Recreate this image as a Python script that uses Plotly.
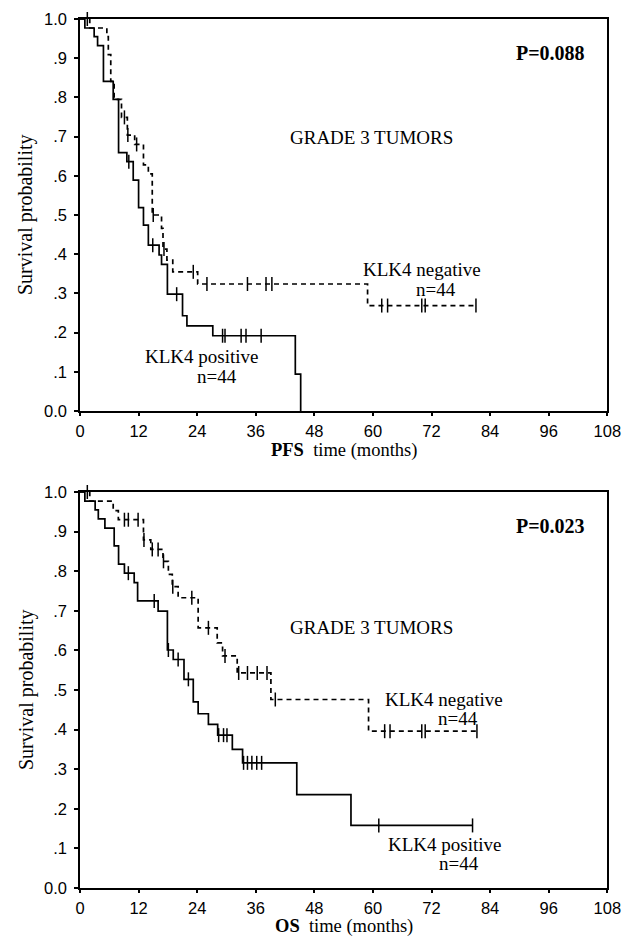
import plotly.graph_objects as go

# ---------------- data ----------------
x_ticks = [0, 12, 24, 36, 48, 60, 72, 84, 96, 108]
y_ticks = [0.0, 0.1, 0.2, 0.3, 0.4, 0.5, 0.6, 0.7, 0.8, 0.9, 1.0]
y_ticktext = ["0.0", ".1", ".2", ".3", ".4", ".5", ".6", ".7", ".8", ".9", "1.0"]

# PFS, KLK4 positive (solid)
pfs_pos_t = [0, 1.0, 2.9, 3.6, 4.8, 6.8, 7.9, 9.6, 10.9, 12.0, 13.0, 14.0, 16.2, 16.7, 17.9, 21.0, 21.9, 27.2, 44.1, 45.2]
pfs_pos_s = [1.0, 0.977, 0.955, 0.932, 0.841, 0.795, 0.659, 0.636, 0.589, 0.519, 0.474, 0.423, 0.398, 0.374, 0.298, 0.243, 0.217, 0.192, 0.094, 0.0]
pfs_pos_cens = [10.0, 14.9, 19.8, 29.2, 29.7, 33.0, 34.0, 37.1]

# PFS, KLK4 negative (dashed)
pfs_neg_t = [0, 2.0, 5.5, 5.8, 6.3, 7.0, 8.5, 9.7, 11.2, 13.0, 14.0, 14.8, 16.7, 17.0, 17.8, 19.0, 24.1, 58.9]
pfs_neg_s = [1.0, 0.977, 0.955, 0.909, 0.841, 0.795, 0.749, 0.704, 0.68, 0.628, 0.605, 0.50, 0.466, 0.413, 0.385, 0.355, 0.324, 0.269]
pfs_neg_cens = [1.5, 9.1, 9.8, 11.6, 15.0, 17.2, 23.2, 26.0, 34.3, 38.1, 39.3, 61.8, 63.0, 70.0, 70.7, 81.1]

# OS, KLK4 positive (solid)
os_pos_t = [0, 1.0, 3.1, 3.75, 5.1, 7.0, 7.9, 9.1, 11.1, 11.8, 16.0, 17.9, 19.1, 21.3, 23.2, 24.2, 26.3, 28.2, 31.2, 33.3, 44.4, 55.5]
os_pos_s = [1.0, 0.977, 0.955, 0.932, 0.909, 0.864, 0.818, 0.795, 0.771, 0.725, 0.699, 0.601, 0.577, 0.527, 0.47, 0.44, 0.413, 0.386, 0.35, 0.316, 0.236, 0.158]
os_pos_cens = [9.9, 15.2, 18.1, 20.1, 22.2, 28.4, 29.4, 30.1, 33.5, 34.3, 35.2, 36.2, 37.2, 61.2, 80.4]

# OS, KLK4 negative (dashed)
os_neg_t = [0, 2.0, 6.8, 7.85, 13.0, 14.5, 17.0, 18.1, 18.9, 20.1, 24.2, 28.1, 29.2, 32.2, 39.1, 59.1]
os_neg_s = [1.0, 0.977, 0.953, 0.93, 0.879, 0.855, 0.825, 0.792, 0.761, 0.733, 0.657, 0.619, 0.586, 0.543, 0.476, 0.396]
os_neg_cens = [1.5, 9.1, 9.9, 11.9, 13.1, 14.8, 16.0, 17.1, 19.0, 22.9, 26.3, 29.7, 32.5, 34.3, 36.3, 38.3, 40.0, 62.4, 63.5, 70.0, 70.7, 81.3]

# ---------------- helpers ----------------
W, H = 632, 938
X0, X1 = 80, 607.3
TOP = (19, 411)
BOT = (492, 888)

SERIF = "Liberation Serif, Times New Roman, serif"
SANS = "Liberation Sans, Arial, sans-serif"


def surv_at(ts, ss, c):
    v = ss[0]
    for t, s in zip(ts, ss):
        if t <= c:
            v = s
    return v


def step_xy(ts, ss, cens):
    xs, ys = list(ts), list(ss)
    if cens and max(cens) > xs[-1]:
        xs.append(max(cens))
        ys.append(ss[-1])
    return xs, ys


fig = go.Figure()


def add_curve(ts, ss, cens, dash, xa, ya):
    xs, ys = step_xy(ts, ss, cens)
    fig.add_trace(go.Scatter(
        x=xs, y=ys, mode="lines", line=dict(shape="hv", color="black", width=1.7, dash=dash),
        xaxis=xa, yaxis=ya, showlegend=False, hoverinfo="skip", cliponaxis=False))
    fig.add_trace(go.Scatter(
        x=cens, y=[surv_at(ts, ss, c) for c in cens], mode="markers",
        marker=dict(symbol="line-ns-open", size=10, color="black", line=dict(width=1.5, color="black")),
        xaxis=xa, yaxis=ya, showlegend=False, hoverinfo="skip", cliponaxis=False))


DASH = "5px,4px"
add_curve(pfs_pos_t, pfs_pos_s, pfs_pos_cens, "solid", "x", "y")
add_curve(pfs_neg_t, pfs_neg_s, pfs_neg_cens, DASH, "x", "y")
add_curve(os_pos_t, os_pos_s, os_pos_cens, "solid", "x2", "y2")
add_curve(os_neg_t, os_neg_s, os_neg_cens, DASH, "x2", "y2")


def ydom(p):
    return [1 - p[1] / H, 1 - p[0] / H]


axis_common = dict(
    showline=True, linecolor="black", linewidth=1.6, mirror=True,
    ticks="outside", tickwidth=2, tickcolor="black",
    showgrid=False, zeroline=False, fixedrange=True,
    tickfont=dict(family=SANS, size=16.5, color="black"),
)

fig.update_layout(
    width=W, height=H,
    margin=dict(l=0, r=0, t=0, b=0, autoexpand=False),
    paper_bgcolor="white", plot_bgcolor="white",
    xaxis=dict(domain=[X0 / W, X1 / W], range=[0, 108], tickvals=x_ticks, anchor="y",
               ticklen=3, ticklabelstandoff=1, **axis_common),
    yaxis=dict(domain=ydom(TOP), range=[0, 1], tickvals=y_ticks, ticktext=y_ticktext, anchor="x",
               ticklen=4, ticklabelstandoff=4, **axis_common),
    xaxis2=dict(domain=[X0 / W, X1 / W], range=[0, 108], tickvals=x_ticks, anchor="y2",
                ticklen=3, ticklabelstandoff=1, **axis_common),
    yaxis2=dict(domain=ydom(BOT), range=[0, 1], tickvals=y_ticks, ticktext=y_ticktext, anchor="x2",
                ticklen=4, ticklabelstandoff=4, **axis_common),
)

ann = []


def txt(text, x, y, xref, yref, size=19, yanchor="middle", **kw):
    ann.append(dict(text=text, x=x, y=y, xref=xref, yref=yref, showarrow=False,
                    xanchor="center", yanchor=yanchor, borderpad=0,
                    font=dict(family=SERIF, size=size, color="black"), **kw))


# panel annotations
txt("<b>P=0.088</b>", 96.3, 0.913, "x", "y", size=20)
txt("GRADE 3 TUMORS", 59.8, 0.698, "x", "y")
txt("KLK4 negative", 70.0, 0.36, "x", "y")
txt("n=44", 72.9, 0.311, "x", "y")
txt("KLK4 positive", 24.9, 0.138, "x", "y")
txt("n=44", 28.0, 0.089, "x", "y")

txt("<b>P=0.023</b>", 96.3, 0.914, "x2", "y2", size=20)
txt("GRADE 3 TUMORS", 59.8, 0.659, "x2", "y2")
txt("KLK4 negative", 74.6, 0.477, "x2", "y2")
txt("n=44", 77.4, 0.429, "x2", "y2")
txt("KLK4 positive", 74.7, 0.109, "x2", "y2")
txt("n=44", 77.6, 0.061, "x2", "y2")

# axis titles
xc = (X0 + X1) / 2 / W
txt("<b>PFS</b>  time (months)", xc, 1 - 462 / H, "paper", "paper", size=18.5, yanchor="bottom")
txt("<b>OS</b>  time (months)", xc, 1 - 938 / H, "paper", "paper", size=18.5, yanchor="bottom")
txt("Survival probability", 26 / W, 1 - (TOP[0] + TOP[1]) / 2 / H, "paper", "paper", size=20, textangle=-90)
txt("Survival probability", 26 / W, 1 - (BOT[0] + BOT[1]) / 2 / H, "paper", "paper", size=20, textangle=-90)

fig.update_layout(annotations=ann)
fig.write_html(
    "out.html",
    config={"displayModeBar": False},
    post_script="document.body.style.margin='0';document.body.style.overflow='hidden';",
)
